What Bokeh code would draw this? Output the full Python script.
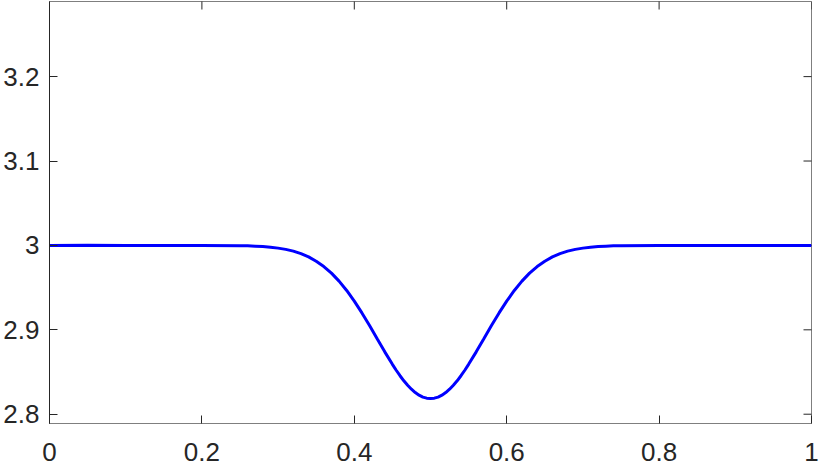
from bokeh.plotting import figure
from bokeh.models import Range1d, FixedTicker, CustomJSTickFormatter
from bokeh.embed import file_html
from bokeh.resources import INLINE
import math

x_vals = [0.0, 0.05, 0.10, 0.15, 0.20, 0.25, 0.26, 0.27, 0.28, 0.29, 0.30,
          0.31, 0.32, 0.33, 0.34, 0.35, 0.36, 0.37, 0.38, 0.39, 0.40,
          0.41, 0.42, 0.43, 0.44, 0.45, 0.455, 0.46, 0.465, 0.47, 0.475,
          0.48, 0.485, 0.49, 0.495, 0.50,
          0.505, 0.51, 0.515, 0.52, 0.525, 0.53, 0.535, 0.54, 0.545, 0.55,
          0.56, 0.57, 0.58, 0.59, 0.60,
          0.61, 0.62, 0.63, 0.64, 0.65, 0.66, 0.67, 0.68, 0.69, 0.70,
          0.71, 0.72, 0.73, 0.74, 0.75, 0.80, 0.85, 0.90, 0.95, 1.0]
y_vals = [3.0, 3.0003, 3.0, 3.0, 3.0, 2.9997, 2.9995, 2.9991, 2.9986, 2.9979, 2.9968,
          2.9953, 2.9932, 2.9903, 2.9864, 2.9813, 2.9750, 2.9672, 2.9577, 2.9466, 2.9340,
          2.9200, 2.9050, 2.8894, 2.8739, 2.8591, 2.8521, 2.8456, 2.8396, 2.8343, 2.8296,
          2.8257, 2.8226, 2.8203, 2.8190, 2.8185,
          2.8190, 2.8203, 2.8226, 2.8257, 2.8296, 2.8343, 2.8396, 2.8456, 2.8521, 2.8591,
          2.8739, 2.8894, 2.9050, 2.9200, 2.9340,
          2.9466, 2.9577, 2.9672, 2.9750, 2.9813, 2.9864, 2.9903, 2.9932, 2.9953, 2.9968,
          2.9979, 2.9986, 2.9991, 2.9995, 2.9997, 3.0, 3.0, 3.0, 3.0, 3.0]

x_ticks = [0, 0.2, 0.4, 0.6, 0.8, 1.0]
y_ticks = [2.8, 2.9, 3.0, 3.1, 3.2]
X_MIN, X_MAX = 0.0, 1.0
Y_MIN, Y_MAX = 2.789, 3.289

FONT = "Liberation Sans"
FS = "26px"
DARK = "#262626"
GRAY = "#7f7f7f"

p = figure(width=830, height=467, output_backend="svg", toolbar_location=None,
           x_range=Range1d(X_MIN, X_MAX), y_range=Range1d(Y_MIN, Y_MAX),
           min_border_left=47, min_border_right=19, min_border_top=1,
           min_border_bottom=44)
p.grid.visible = False
p.outline_line_color = GRAY
p.outline_line_width = 1
p.background_fill_color = "white"
p.border_fill_color = "white"

fmt = CustomJSTickFormatter(code="return String(Math.round(tick*10)/10);")

xa = p.xaxis[0]
xa.ticker = FixedTicker(ticks=x_ticks)
xa.formatter = fmt
ya = p.yaxis[0]
ya.ticker = FixedTicker(ticks=y_ticks)
ya.formatter = fmt

for ax, col in ((xa, GRAY), (ya, DARK)):
    ax.axis_line_color = col
    ax.axis_line_width = 1
    ax.major_tick_in = 8
    ax.major_tick_out = 0
    ax.major_tick_line_color = DARK
    ax.minor_tick_line_color = None
    ax.major_label_text_font = FONT
    ax.major_label_text_font_size = FS
    ax.major_label_text_color = DARK
xa.major_label_standoff = 19
ya.major_label_standoff = 10

# mirrored inward ticks on the top and right edges of the box
p.scatter(x_ticks, [Y_MAX] * len(x_ticks), marker="dash", angle=math.pi / 2,
          size=16, line_color=DARK, line_width=1)
p.scatter([X_MAX] * len(y_ticks), y_ticks, marker="dash",
          size=16, line_color=DARK, line_width=1)

p.line(x_vals, y_vals, line_color="#0000ff", line_width=3)

open("out.html", "w").write(file_html(p, INLINE))
